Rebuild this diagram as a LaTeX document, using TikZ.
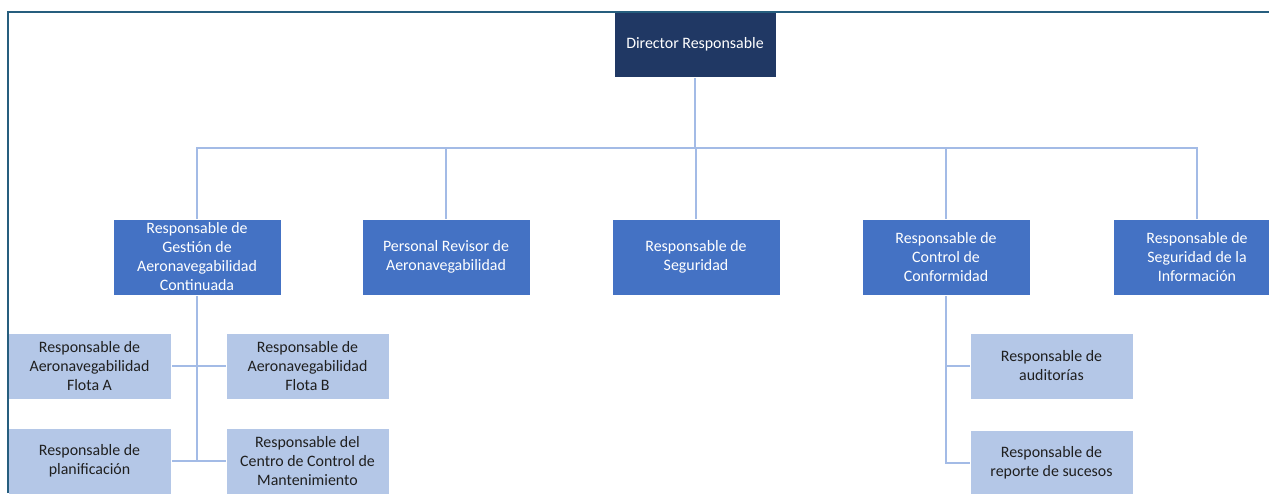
\documentclass[tikz,border=0pt]{standalone}
\usepackage{fontspec}
\setmainfont{Carlito}
\usetikzlibrary{backgrounds}

\definecolor{navy}{RGB}{32,56,100}
\definecolor{midblue}{RGB}{68,114,196}
\definecolor{paleblue}{RGB}{180,199,231}
\definecolor{wireblue}{RGB}{163,187,230}
\definecolor{framecol}{RGB}{38,94,126}

\begin{document}
\begin{tikzpicture}[x=1pt,y=-1pt,
  box/.style={rectangle,draw=white,line width=0.6pt,align=center,inner sep=0pt,
    font=\fontsize{15.9}{19}\selectfont},
  topbox/.style={box,fill=navy,text=white,minimum width=162,minimum height=65},
  lvlbox/.style={box,fill=midblue,text=white,minimum width=168,minimum height=76},
  subbox/.style={box,fill=paleblue,text=black!88,minimum width=163,minimum height=66},
  wire/.style={draw=wireblue,line width=1.2pt}]

\useasboundingbox (0,0) rectangle (1269,493);
\clip (0,0) rectangle (1269,493);

\node[topbox] (dir) at (695,44.5) {Director Responsable};

\node[lvlbox] (gest) at (197,257) {Responsable de\\Gestión de\\Aeronavegabilidad\\Continuada};
\node[lvlbox] (rev) at (446,257) {Personal Revisor de\\Aeronavegabilidad};
\node[lvlbox] (seg) at (696,257) {Responsable de\\Seguridad};
\node[lvlbox] (conf) at (946,257) {Responsable de\\Control de\\Conformidad};
\node[lvlbox] (info) at (1197,257) {Responsable de\\Seguridad de la\\Información};

\node[subbox] (fa) at (89.5,366) {Responsable de\\Aeronavegabilidad\\Flota A};
\node[subbox] (fb) at (307.5,366) {Responsable de\\Aeronavegabilidad\\Flota B};
\node[subbox] (plan) at (89.5,461) {Responsable de\\planificación};
\node[subbox] (ccm) at (307.5,461) {Responsable del\\Centro de Control de\\Mantenimiento};

\node[subbox] (aud) at (1051.5,366) {Responsable de\\auditorías};
\node[subbox] (rep) at (1051.5,463) {Responsable de\\reporte de sucesos};

\coordinate (bus) at (696,148);

\begin{scope}[on background layer]
  \draw[wire] (dir) -- (dir |- bus);
  \draw[wire] (gest.north) |- (bus) -| (info.north);
  \foreach \n in {rev,seg,conf}
    \draw[wire] (\n.north) -- (\n.north |- bus);

  \draw[wire] (gest.south) -- (gest.south |- plan.east);
  \draw[wire] (fa.east) -- (fb.west);
  \draw[wire] (plan.east) -- (ccm.west);

  \draw[wire] (conf.south) |- (rep.west);
  \draw[wire] (conf.south |- aud.west) -- (aud.west);
\end{scope}

% frame
\draw[framecol,line width=2pt] (7.5,493) -- (7.5,11.5) -- (1269,11.5);

\end{tikzpicture}
\end{document}
